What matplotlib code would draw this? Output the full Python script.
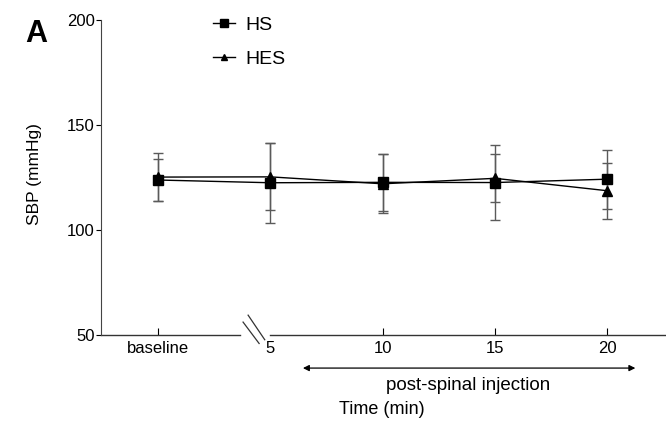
# SBP over time for HS vs HES groups (panel A)

import matplotlib.pyplot as plt
from matplotlib.lines import Line2D
import numpy as np

plt.rcParams['font.family'] = ['Liberation Sans', 'DejaVu Sans']

# Data
time_labels = ['baseline', '5', '10', '15', '20']
hs_mean = [123.8, 122.5, 122.7, 122.6, 124.2]
hs_sd = [9.8, 19.0, 13.5, 17.7, 14.0]
hes_mean = [125.2, 125.3, 122.0, 124.6, 118.7]
hes_sd = [11.3, 16.0, 14.0, 11.5, 13.4]

x = np.arange(len(time_labels))

fig = plt.figure(figsize=(6.66, 4.26), dpi=100)
ax = fig.add_axes([101/666, 1 - 335/426, 1 - 101/666, 315/426])

# error bars first, then lines + markers
for mean, sd in [(hs_mean, hs_sd), (hes_mean, hes_sd)]:
    ax.errorbar(x, mean, yerr=sd, fmt='none', ecolor='#5a5a5a', elinewidth=1.0,
                capsize=3.3, capthick=1.0)
ax.plot(x, hes_mean, color='black', lw=1.0, marker='^', ms=6.5, zorder=3)
ax.plot(x, hs_mean, color='black', lw=1.0, marker='s', ms=7.5, zorder=4)

ax.set_xlim(-0.508, 4.523)
ax.set_ylim(50, 200)
ax.set_yticks([50, 100, 150, 200])
ax.set_xticks(x)
ax.set_xticklabels(time_labels)
ax.tick_params(axis='y', direction='out', length=3.5, labelsize=12, pad=1)
ax.tick_params(axis='x', direction='in', length=5, labelsize=12, pad=4)
ax.xaxis.get_major_ticks()[1].tick1line.set_visible(False)

for s in ['top', 'right', 'bottom']:
    ax.spines[s].set_visible(False)
ax.spines['left'].set_color('#444444')

# broken x axis drawn by hand
tr = ax.get_xaxis_transform()
ax.plot([-0.508, 0.73], [0, 0], color='#333333', lw=1.0, transform=tr, clip_on=False)
ax.plot([1.0, 4.523], [0, 0], color='#333333', lw=1.0, transform=tr, clip_on=False)
ax.plot([0.757, 0.90], [0.041, -0.027], color='#333333', lw=0.9, transform=tr, clip_on=False)
ax.plot([0.802, 0.95], [0.063, -0.015], color='#333333', lw=0.9, transform=tr, clip_on=False)

ax.set_ylabel('SBP (mmHg)', fontsize=12.5)
ax.yaxis.set_label_coords(-0.104, 0.511)

# post-spinal arrow and labels
ax.annotate('', xy=(4.25, -0.105), xytext=(1.29, -0.105), xycoords=tr,
            arrowprops=dict(arrowstyle='<|-|>', color='black', lw=0.9,
                            mutation_scale=9, shrinkA=0, shrinkB=0))
ax.text(2.76, -0.16, 'post-spinal injection', transform=tr, ha='center', va='center',
        fontsize=13.5)
ax.text(1.99, -0.238, 'Time (min)', transform=tr, ha='center', va='center', fontsize=13)

# legend
handles = [Line2D([], [], color='black', lw=1.0, marker='s', ms=6),
           Line2D([], [], color='black', lw=1.0, marker='^', ms=5)]
fig.legend(handles, ['HS', 'HES'], loc='upper left', bbox_to_anchor=(213/666, 1 - 16/426),
           frameon=False, fontsize=14, handlelength=1.15, handletextpad=0.5,
           labelspacing=0.85, borderpad=0, borderaxespad=0)

fig.text(25/666, 1 - 34/426, 'A', fontsize=22, fontweight='bold', va='center', ha='left')

fig.savefig('out.png', dpi=100)
